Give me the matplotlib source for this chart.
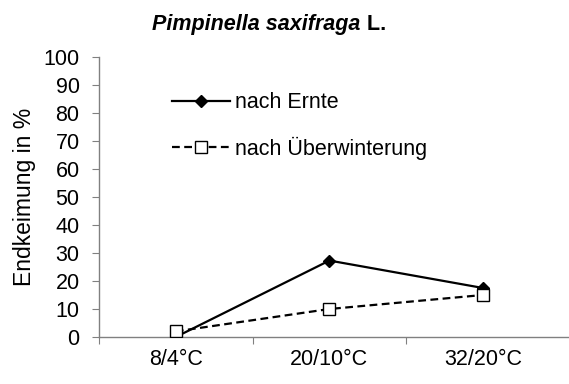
import matplotlib
matplotlib.use("Agg")
import matplotlib.pyplot as plt

plt.rcParams['font.family'] = ['Liberation Sans', 'DejaVu Sans']

categories = ["8/4°C", "20/10°C", "32/20°C"]
nach_ernte = [0, 27.3, 17.5]
nach_ueberwinterung = [2, 10, 15]
yticks = list(range(0, 101, 10))

FS = 15.5

fig = plt.figure(figsize=(5.69, 3.84), dpi=100)
ax = fig.add_axes([0.174, 0.1224, 0.826, 0.7292])

x = list(range(len(categories)))
ax.plot(x, nach_ernte, color='black', lw=1.6, marker='D', ms=6,
        mfc='black', mec='black', label='nach Ernte', zorder=3)
ax.plot(x, nach_ueberwinterung, color='black', lw=1.6, ls=(0, (3.5, 2)), marker='s', ms=9,
        mfc='white', mec='black', mew=1.0, label='nach Überwinterung', zorder=4)

ax.set_xlim(-0.5, 2.56)
ax.set_ylim(0, 100)
ax.set_yticks(yticks)
ax.set_yticklabels([str(v) for v in yticks], fontsize=FS)

ax.set_xticks([-0.5, 0.5, 1.5])
ax.set_xticklabels([])
ax.set_xticks(x, minor=True)
ax.set_xticklabels(categories, minor=True, fontsize=FS)
ax.tick_params(axis='x', which='minor', length=0, pad=9)
ax.tick_params(axis='x', which='major', length=5, color='#808080', direction='out')
ax.tick_params(axis='y', length=5, color='#808080', direction='out', pad=9)

for side in ['top', 'right']:
    ax.spines[side].set_visible(False)
for side in ['left', 'bottom']:
    ax.spines[side].set_color('#808080')
    ax.spines[side].set_linewidth(1.0)

ax.set_ylabel('Endkeimung in %', fontsize=16.5, labelpad=5)

leg = ax.legend(loc='upper left', bbox_to_anchor=(0.155, 0.874), frameon=False,
                fontsize=FS, handlelength=2.7, handletextpad=0.25, labelspacing=1.09,
                borderpad=0, borderaxespad=0)

# title: bold italic species name + bold "L."
fig.canvas.draw()
r = fig.canvas.get_renderer()
t1 = fig.text(0.5, 0.935, "Pimpinella saxifraga", fontsize=FS, fontweight='bold',
              fontstyle='italic', ha='left', va='center')
t2 = fig.text(0.5, 0.935, " L.", fontsize=FS, fontweight='bold', ha='left', va='center')
w1 = t1.get_window_extent(r).width
w2 = t2.get_window_extent(r).width
cx = 269
x0 = cx - (w1 + w2) / 2
t1.set_x(x0 / fig.bbox.width)
t2.set_x((x0 + w1) / fig.bbox.width)

fig.savefig('out.png', dpi=100)
